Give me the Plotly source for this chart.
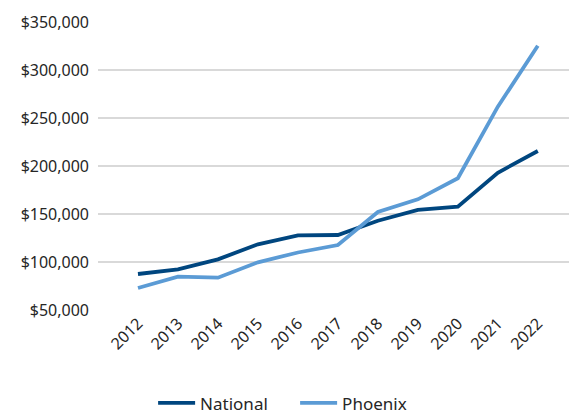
import plotly.graph_objects as go

years = ["2012", "2013", "2014", "2015", "2016", "2017", "2018", "2019", "2020", "2021", "2022"]
national = [87500, 92400, 102800, 118400, 127800, 128100, 143000, 154200, 157600, 193000, 215600]
phoenix = [72900, 84700, 83700, 99700, 109900, 117700, 152100, 165300, 187200, 261800, 325300]

font_family = "Noto Sans"
text_color = "#262626"

fig = go.Figure()
fig.add_trace(go.Scatter(x=years, y=national, mode="lines", name="National",
                         line=dict(color="#00467f", width=3.8)))
fig.add_trace(go.Scatter(x=years, y=phoenix, mode="lines", name="Phoenix",
                         line=dict(color="#5b9bd5", width=3.8)))

fig.update_layout(
    width=570, height=418,
    margin=dict(l=98, r=1, t=22, b=108, autoexpand=False),
    paper_bgcolor="white", plot_bgcolor="white",
    font=dict(family=font_family, size=16, color=text_color),
    xaxis=dict(type="category", range=[-1, 10.78], tickangle=-45,
               showgrid=False, showline=False, zeroline=False,
               tickfont=dict(size=16), automargin=False),
    yaxis=dict(range=[50000, 350000], dtick=50000, tickformat="$,.0f",
               showgrid=True, gridcolor="#d9d9d9", gridwidth=1.5,
               zeroline=False, showline=False, ticklabelstandoff=8,
               tickfont=dict(size=16), automargin=False),
    legend=dict(orientation="h", x=0.117, xanchor="left",
                yref="container", y=0.035, yanchor="middle",
                itemwidth=37, entrywidth=90, font=dict(size=17),
                bgcolor="rgba(0,0,0,0)"),
    showlegend=True,
)

fig.write_html("out.html")
